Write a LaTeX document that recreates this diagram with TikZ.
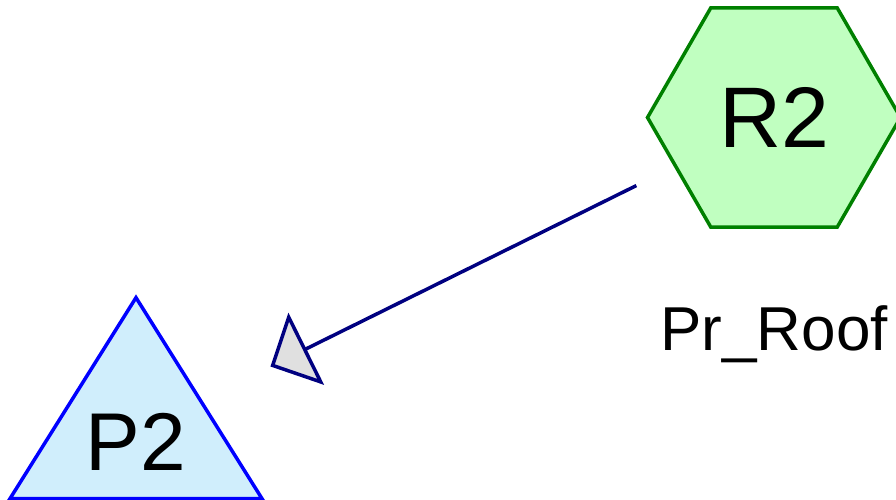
\documentclass[tikz,border=0pt]{standalone}
\usepackage{fontspec}
\setmainfont{Liberation Sans}
\usetikzlibrary{shapes.geometric,arrows.meta,positioning}

\definecolor{roofgreen}{HTML}{C0FFC0}
\definecolor{roofedge}{HTML}{008000}
\definecolor{pipeblue}{HTML}{D0EEFC}
\definecolor{linknavy}{HTML}{000080}
\definecolor{headgray}{HTML}{E0E0E0}

\begin{document}
\begin{tikzpicture}[
    x=1pt, y=-1pt,
    roof/.style={regular polygon, regular polygon sides=6, draw=roofedge, fill=roofgreen, line width=3.5pt, minimum size=253pt, inner sep=0pt, font=\fontsize{86}{90}\selectfont},
    pipe/.style={isosceles triangle, isosceles triangle stretches, shape border rotate=90, draw=blue, fill=pipeblue, line width=3.5pt, minimum width=252pt, minimum height=201pt, inner sep=0pt, font=\fontsize{82}{86}\selectfont},
    tag/.style={font=\fontsize{62}{66}\selectfont},
    link/.style={-{Triangle[length=40pt, width=80pt, fill=headgray]}, draw=linknavy, line width=3.5pt}
]
    \useasboundingbox (0,0) rectangle (896,500);

    % Nodes
    \node[roof] (r2) at (774,117.5) {R2};
    \node[pipe] (p2) at (136,446.5) {\raisebox{9pt}{P2}};
    \node[tag, below=73.5pt of r2] (prroof) {Pr\_Roof};

    % Arrows
    \draw[link, shorten <=42pt, shorten >=150pt] (r2) -- ([yshift=13.5pt]p2.center);

\end{tikzpicture}
\end{document}
